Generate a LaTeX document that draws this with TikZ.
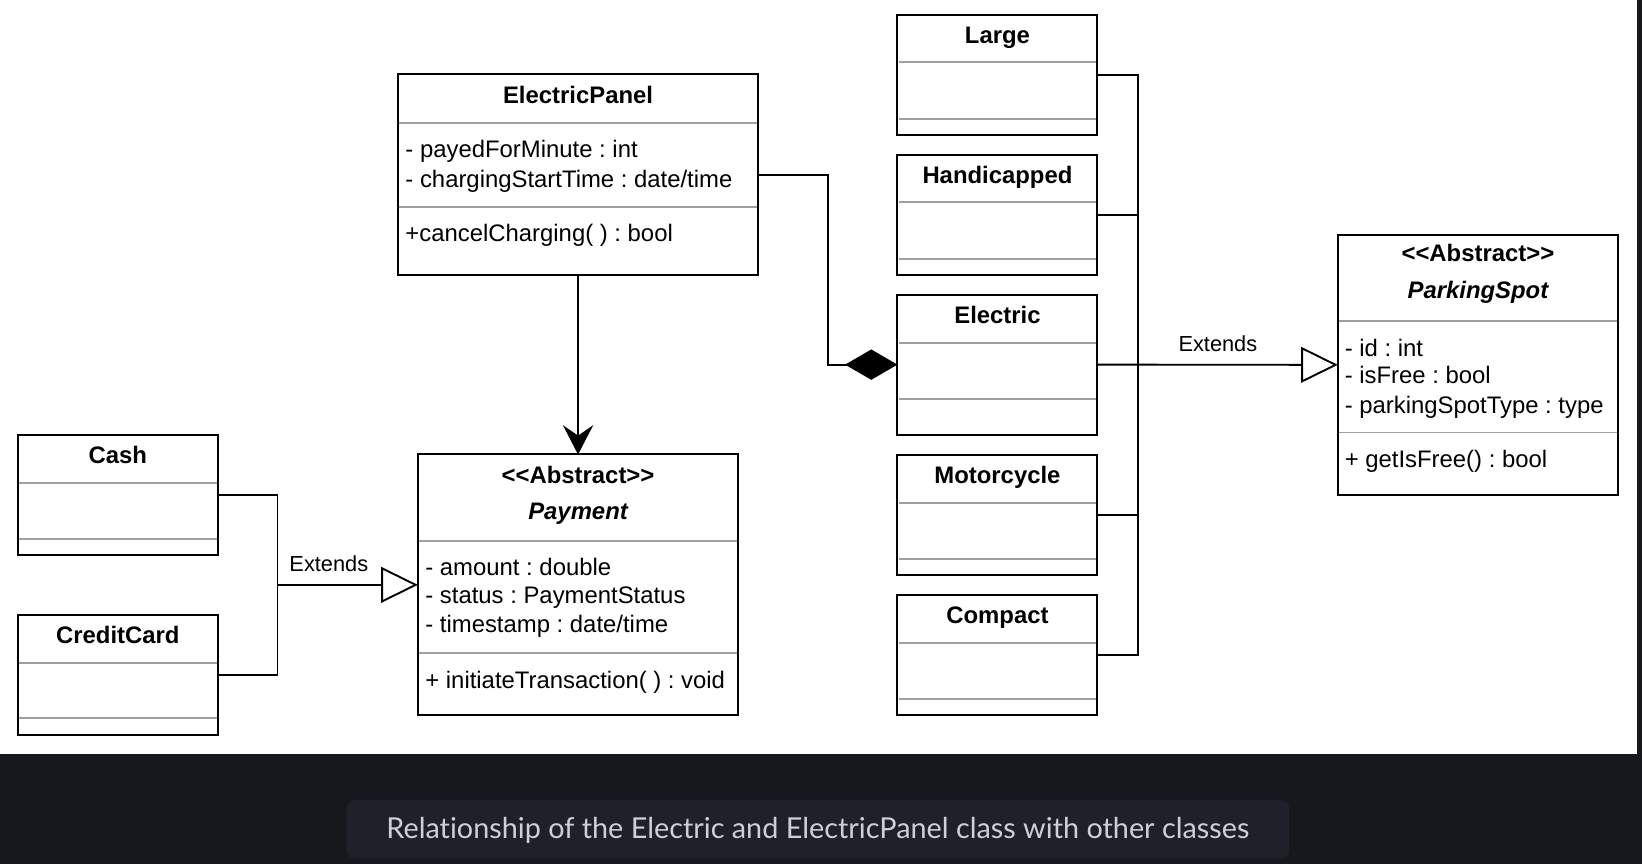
\documentclass[tikz,border=0pt]{standalone}
\usepackage{fontspec}
\setmainfont{Liberation Sans}
\newfontfamily\capfont{Lato}[Ligatures=NoCommon]
\usetikzlibrary{arrows.meta}
\frenchspacing
\definecolor{sepgray}{HTML}{A0A0A0}
\definecolor{darkbg}{HTML}{17171E}
\definecolor{capbox}{HTML}{1F2029}
\definecolor{captext}{HTML}{CFD0D5}
\tikzset{
  classbox/.style={draw=black, line width=1.9pt, fill=white, rectangle, anchor=north west, inner sep=0pt, outer sep=0pt},
  sepline/.style={draw=sepgray, line width=1.9pt},
  conn/.style={draw=black, line width=1.8pt},
  ctitle/.style={font=\fontsize{22.8}{27}\selectfont\bfseries, inner sep=0pt, anchor=base},
  cititle/.style={font=\fontsize{22.8}{27}\selectfont\bfseries\itshape, inner sep=0pt, anchor=base},
  cattr/.style={font=\fontsize{22.8}{27}\selectfont, inner sep=0pt, anchor=base west},
  elabel/.style={font=\fontsize{20.8}{25}\selectfont, inner sep=0pt, anchor=base},
  inherit/.style={conn, -{Triangle[open, length=35pt, width=34pt, fill=white, line width=1.8pt]}},
  compose/.style={conn, -{Diamond[length=50pt, width=29pt, fill=black]}},
  assoc/.style={conn, -{Stealth[length=28pt, width=29pt, inset=10pt]}},
}
% name, x, y, w, h, sep1 (abs y), sep2 (abs y)
\newcommand\umlclass[7]{%
  \node[classbox, minimum width=#4pt, minimum height=#5pt] (#1) at (#2,#3) {};
  \draw[sepline] ({#2+1},#6) -- ({#2+#4-1},#6);
  \draw[sepline] ({#2+1},#7) -- ({#2+#4-1},#7);
}
\newcommand\stereoAbs{<\kern0pt<Abstract>\kern0pt>}
\begin{document}
\begin{tikzpicture}[x=1pt,y=-1pt]
\useasboundingbox (0,0) rectangle (1568,825);
\fill[darkbg] (0,0) rectangle (1568,825);
\fill[white] (0,0) rectangle (1563,720);
\fill[capbox, rounded corners=8pt] (331,764) rectangle (1231,820);
\node[font=\capfont\fontsize{27.5}{31}\selectfont, text=captext, inner sep=0pt, anchor=base] (caption) at (781,800.5) {Relationship of the Electric and ElectricPanel class with other classes};

% ElectricPanel
\umlclass{EP}{380}{71}{344}{192}{117}{197.5}
\node[ctitle] (epT) at (552,99.3) {ElectricPanel};
\node[cattr] (epA1) at (387,150.2) {- payedForMinute : int};
\node[cattr] (epA2) at (387,178.9) {- chargingStartTime : date/time};
\node[cattr] (epM1) at (387,230.8) {+cancelCharging( ) : bool};

% Payment
\umlclass{Pay}{399}{434}{306}{249}{516.5}{623.5}
\node[ctitle] (payS) at (552,461.9) {\stereoAbs};
\node[cititle] (payT) at (552,495.9) {Payment};
\node[cattr] (payA1) at (406,549.4) {- amount : double};
\node[cattr] (payA2) at (406,576.5) {- status : PaymentStatus};
\node[cattr] (payA3) at (406,604.2) {- timestamp : date/time};
\node[cattr] (payM1) at (406,657) {+ initiateTransaction( ) : void};

% Cash / CreditCard
\umlclass{Cash}{17}{415}{191}{115}{461}{514.5}
\node[ctitle] (cashT) at (112.5,442.8) {Cash};
\umlclass{CC}{17}{587}{191}{115}{633}{686}
\node[ctitle] (ccT) at (112.5,614.7) {CreditCard};

% Spot subclasses
\umlclass{Large}{857}{14}{191}{115}{59.5}{113.3}
\node[ctitle] (largeT) at (952.5,41.4) {Large};
\umlclass{Handi}{857}{147.7}{191}{115}{193.2}{247}
\node[ctitle] (handiT) at (952.5,175) {Handicapped};
\umlclass{Elec}{857}{281.4}{191}{133.6}{327.2}{380.7}
\node[ctitle] (elecT) at (952.5,308.8) {Electric};
\umlclass{Moto}{857}{434.2}{191}{115}{480}{533.5}
\node[ctitle] (motoT) at (952.5,461.9) {Motorcycle};
\umlclass{Comp}{857}{568}{191}{115}{613.7}{667.2}
\node[ctitle] (compT) at (952.5,595.6) {Compact};

% ParkingSpot
\umlclass{PS}{1277.5}{224.4}{267.5}{248}{306.5}{413}
\node[ctitle] (psS) at (1411.3,249.9) {\stereoAbs};
\node[cititle] (psT) at (1411.3,284.9) {ParkingSpot};
\node[cattr] (psA1) at (1284,340) {- id : int};
\node[cattr] (psA2) at (1284,366) {- isFree : bool};
\node[cattr] (psA3) at (1284,394.7) {- parkingSpotType : type};
\node[cattr] (psM1) at (1284,446) {+ getIsFree() : bool};

% Connectors
\draw[compose] (EP.east) -- ++(67,0) |- (Elec.west);
\draw[assoc] (EP.south) -- (Pay.north);

\coordinate (payJ) at (265,558.5);
\draw[conn] (Cash.east) -| (payJ);
\draw[conn] (CC.east) -| (payJ);
\draw[inherit] (payJ) -- (Pay.west);
\node[elabel] (ext1) at (314,545.6) {Extends};

\coordinate (psJ) at (1086.5,348.2);
\draw[conn] (Large.east) -| (psJ);
\draw[conn] (Handi.east) -| (psJ);
\draw[conn] (Moto.east) -| (psJ);
\draw[conn] (Comp.east) -| (psJ);
\draw[inherit] (Elec.east) -- (PS.west);
\node[elabel] (ext2) at (1163,335.8) {Extends};
\end{tikzpicture}
\end{document}
